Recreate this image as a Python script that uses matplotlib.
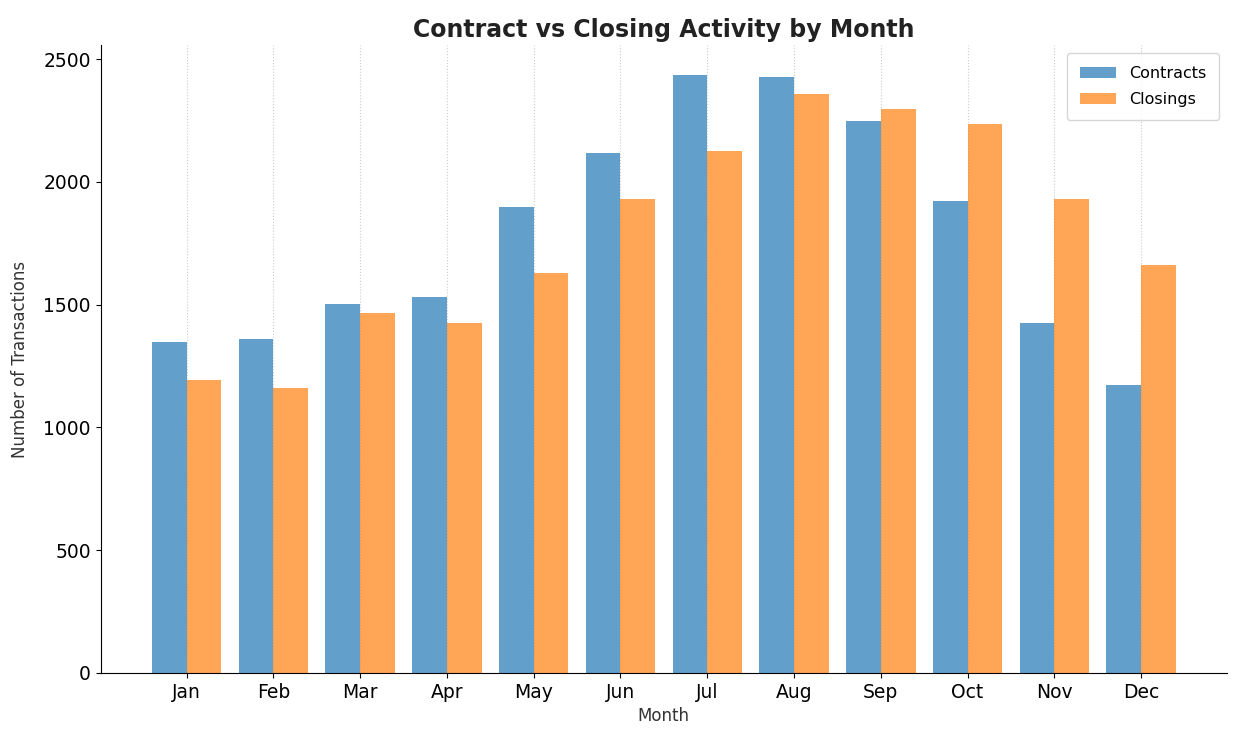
import numpy as np
import matplotlib.pyplot as plt

months = ["Jan", "Feb", "Mar", "Apr", "May", "Jun", "Jul", "Aug", "Sep", "Oct", "Nov", "Dec"]
contracts = [1348, 1360, 1503, 1531, 1898, 2117, 2435, 2427, 2248, 1922, 1425, 1173]
closings = [1193, 1160, 1466, 1425, 1629, 1930, 2126, 2358, 2297, 2236, 1930, 1661]

x = np.arange(len(months))
w = 0.4

fig, ax = plt.subplots(figsize=(12.42, 7.42), dpi=100)
fig.subplots_adjust(left=0.081, right=0.988, top=0.939, bottom=0.093)

ax.bar(x - w / 2, contracts, w, color="tab:blue", alpha=0.7, label="Contracts")
ax.bar(x + w / 2, closings, w, color="tab:orange", alpha=0.7, label="Closings")

ax.set_xticks(x)
ax.set_xticklabels(months, fontsize=13.5)
ax.tick_params(axis="y", labelsize=13.5)
ax.set_xlabel("Month", fontsize=12, color="#333333")
ax.set_ylabel("Number of Transactions", fontsize=12, color="#333333", labelpad=10)
ax.set_title("Contract vs Closing Activity by Month", fontsize=17, fontweight="bold", color="#222222")

ax.grid(axis="x", linestyle=":", color="#cccccc", linewidth=0.8)
ax.set_axisbelow(True)
ax.spines["top"].set_visible(False)
ax.spines["right"].set_visible(False)
ax.legend(fontsize=11.5, borderpad=0.8, labelspacing=0.7, handlelength=2.3)

fig.savefig("out.png", dpi=100)
